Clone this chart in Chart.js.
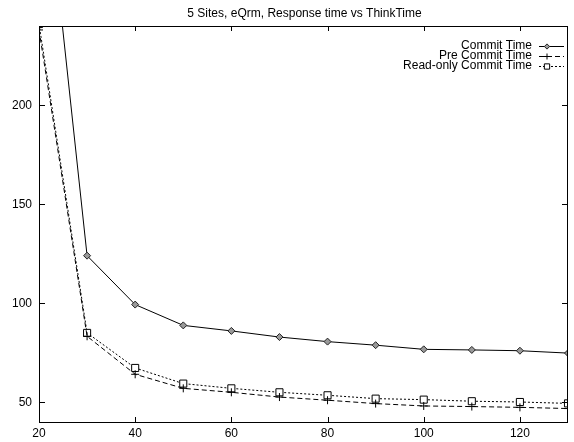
<!DOCTYPE html>
<html>
<head>
<meta charset="utf-8">
<script src="https://cdn.jsdelivr.net/npm/chart.js@4.4.0/dist/chart.umd.min.js"></script>
<style>
  html, body { margin: 0; padding: 0; background: #fff; }
  #wrap { width: 574px; height: 442px; }
</style>
</head>
<body>
<div id="wrap"><canvas id="chart"></canvas></div>
<script>
const TITLE = "5 Sites, eQrm, Response time vs ThinkTime";
const thinkTime = [20, 30, 40, 50, 60, 70, 80, 90, 100, 110, 120, 130];
const commitTime = [350, 124, 99.3, 88.8, 86, 82.9, 80.6, 78.8, 76.7, 76.4, 76.0, 74.8];
const preCommitTime = [238, 83.3, 64.1, 57.0, 55.0, 52.6, 51.0, 49.3, 48.1, 47.8, 47.4, 46.8];
const readOnlyCommitTime = [241, 85.0, 67.3, 59.4, 57.0, 55.0, 53.5, 51.8, 51.3, 50.5, 50.1, 49.4];
const xTicks = [20, 40, 60, 80, 100, 120];
const yTicks = [50, 100, 150, 200];

const FONT = "Liberation Sans, Arial, sans-serif";

function toPoints(values) {
  return thinkTime.map((x, i) => ({ x: x, y: values[i] }));
}

// gnuplot-like frame: title, inward ticks on all four sides, legend at top right
const gnuplotFrame = {
  id: 'gnuplotFrame',
  afterDraw(chart) {
    const ctx = chart.ctx;
    const area = chart.chartArea;
    const xs = chart.scales.x;
    const ys = chart.scales.y;
    ctx.save();

    ctx.fillStyle = '#000';
    ctx.font = '12px ' + FONT;
    ctx.textAlign = 'center';
    ctx.textBaseline = 'middle';
    ctx.fillText(TITLE, (area.left + area.right) / 2 + 1, 14);

    ctx.strokeStyle = '#000';
    ctx.lineWidth = 1;
    ctx.strokeRect(area.left + 0.5, area.top + 0.5, area.right - area.left - 1, area.bottom - area.top);

    ctx.beginPath();
    xTicks.forEach(v => {
      const px = Math.round(xs.getPixelForValue(v)) + 0.5;
      ctx.moveTo(px, area.bottom); ctx.lineTo(px, area.bottom - 5);
      ctx.moveTo(px, area.top); ctx.lineTo(px, area.top + 5);
    });
    yTicks.forEach(v => {
      const py = Math.round(ys.getPixelForValue(v)) + 0.5;
      ctx.moveTo(area.left, py); ctx.lineTo(area.left + 6, py);
      ctx.moveTo(area.right, py); ctx.lineTo(area.right - 6, py);
    });
    ctx.stroke();

    // legend
    ctx.font = '12px ' + FONT;
    ctx.textAlign = 'right';
    chart.data.datasets.forEach((ds, i) => {
      const y = 45.5 + i * 10;
      ctx.fillStyle = '#000';
      ctx.fillText(ds.label, 532, y);
      ctx.strokeStyle = ds.borderColor;
      ctx.lineWidth = ds.borderWidth;
      ctx.setLineDash(ds.borderDash || []);
      ctx.beginPath();
      ctx.moveTo(539, Math.round(y) + 0.5); ctx.lineTo(564, Math.round(y) + 0.5);
      ctx.stroke();
      ctx.setLineDash([]);
      if (Chart.helpers && Chart.helpers.drawPoint) {
        ctx.fillStyle = ds.pointBackgroundColor;
        ctx.strokeStyle = ds.pointBorderColor;
        ctx.lineWidth = ds.pointBorderWidth;
        Chart.helpers.drawPoint(ctx, { pointStyle: ds.pointStyle, radius: ds.pointRadius * 0.75, borderWidth: ds.pointBorderWidth, rotation: 0 }, 547, Math.round(y) + 0.5);
      }
    });
    ctx.restore();
  }
};

const ctx = document.getElementById('chart').getContext('2d');
new Chart(ctx, {
  type: 'line',
  data: {
    datasets: [{
      label: 'Commit Time',
      data: toPoints(commitTime),
      borderColor: '#000',
      borderWidth: 1,
      pointStyle: 'rectRot',
      pointRadius: 3.5,
      pointBorderWidth: 1,
      pointBorderColor: '#222',
      pointBackgroundColor: '#999'
    }, {
      label: 'Pre Commit Time',
      data: toPoints(preCommitTime),
      borderColor: '#000',
      borderWidth: 1,
      borderDash: [5, 3],
      pointStyle: 'cross',
      pointRadius: 4,
      pointBorderWidth: 1,
      pointBorderColor: '#000',
      pointBackgroundColor: '#000'
    }, {
      label: 'Read-only Commit Time',
      data: toPoints(readOnlyCommitTime),
      borderColor: '#000',
      borderWidth: 1,
      borderDash: [2, 2],
      pointStyle: 'rect',
      pointRadius: 5,
      pointBorderWidth: 1,
      pointBorderColor: '#000',
      pointBackgroundColor: '#fff'
    }]
  },
  options: {
    responsive: true,
    maintainAspectRatio: false,
    animation: false,
    layout: { padding: { top: 26, right: 0, left: 0, bottom: 0 } },
    plugins: {
      legend: { display: false },
      title: { display: false },
      tooltip: { enabled: false }
    },
    scales: {
      x: {
        type: 'linear',
        min: 20,
        max: 130,
        afterBuildTicks: s => { s.ticks = xTicks.map(v => ({ value: v })); },
        afterFit: s => { s.height = 20; },
        grid: { display: false, drawTicks: false, tickLength: 0 },
        border: { display: false },
        ticks: { color: '#000', font: { family: FONT, size: 12 }, padding: 4, maxRotation: 0 }
      },
      y: {
        min: 40,
        max: 240,
        afterBuildTicks: s => { s.ticks = yTicks.map(v => ({ value: v })); },
        afterFit: s => { s.width = 39; },
        grid: { display: false, drawTicks: false, tickLength: 0 },
        border: { display: false },
        ticks: { color: '#000', font: { family: FONT, size: 12 }, padding: 7 }
      }
    }
  },
  plugins: [gnuplotFrame]
});
</script>
</body>
</html>
